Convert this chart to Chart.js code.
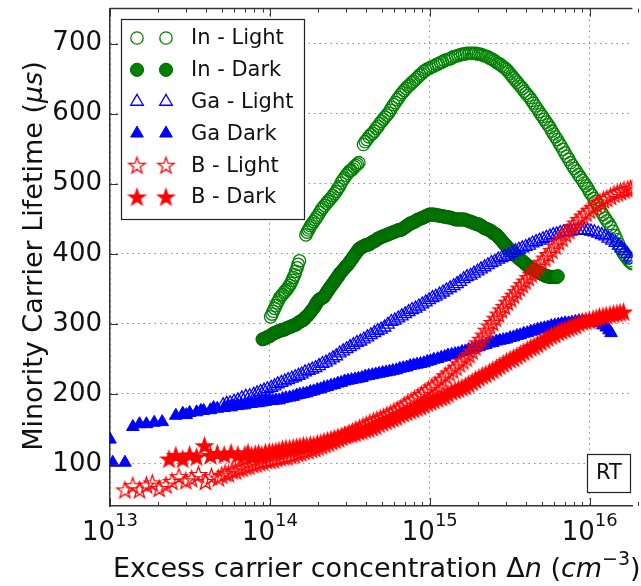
<!DOCTYPE html>
<html>
<head>
<meta charset="utf-8">
<script src="https://cdn.jsdelivr.net/npm/chart.js@4.4.0/dist/chart.umd.min.js"></script>
<style>
  html, body { margin: 0; padding: 0; background: #fff; overflow: hidden; }
  #chart { display: block; }
</style>
</head>
<body>
<canvas id="chart" width="641" height="586"></canvas>
<script>
// axis ticks
const xMajorTicks = [1e13, 1e14, 1e15, 1e16];
const xMinorSteps = [2, 3, 4, 5, 6, 7, 8, 9];
const yTicks = [100, 200, 300, 400, 500, 600, 700];

const seriesLabels = ['In - Light', 'In - Dark', 'Ga - Light', 'Ga Dark', 'B - Light', 'B - Dark'];

// [excess carrier concentration (cm^-3), lifetime (us)]
const inLight = [
  [1.01e14,310],[1.03e14,314],[1.05e14,318],[1.07e14,322],[1.09e14,326],[1.11e14,330],[1.13e14,333],
  [1.15e14,337],[1.18e14,340],[1.2e14,342],[1.23e14,345],[1.25e14,347],[1.28e14,349],[1.3e14,352],
  [1.33e14,355],[1.35e14,358],[1.38e14,362],[1.4e14,366],[1.43e14,370],[1.45e14,375],[1.48e14,380],
  [1.5e14,385],[1.53e14,390],
  [1.68e14,427],[1.71e14,431],[1.74e14,434],[1.77e14,437],[1.80e14,440],[1.84e14,443],[1.88e14,446],
  [1.92e14,449],[1.96e14,452],[2.0e14,455],[2.05e14,459],[2.1e14,463],[2.15e14,466],[2.2e14,469],
  [2.26e14,472],[2.31e14,475],[2.36e14,477],[2.42e14,480],[2.48e14,483],[2.54e14,486],[2.60e14,489],
  [2.66e14,493],[2.72e14,496],[2.78e14,501],[2.85e14,505],[2.92e14,508],[3.00e14,512],[3.07e14,515],
  [3.15e14,518],[3.22e14,519],[3.30e14,521],[3.37e14,524],[3.45e14,526],[3.52e14,528],[3.60e14,530],
  [3.85e14,556],[3.95e14,560],[4.05e14,563],[4.16e14,567],[4.28e14,570],[4.39e14,572],[4.50e14,575],
  [4.62e14,579],[4.75e14,582],[4.87e14,586],[5.00e14,589],[5.12e14,592],[5.25e14,595],[5.38e14,598],
  [5.52e14,601],[5.66e14,605],[5.80e14,609],[5.95e14,613],[6.10e14,616],[6.25e14,620],[6.40e14,623],
  [6.57e14,627],[6.75e14,630],[6.92e14,633],[7.10e14,636],[7.30e14,639],[7.50e14,641],[7.70e14,644],
  [7.90e14,646],[8.15e14,649],[8.40e14,652],[8.65e14,655],[8.90e14,657],[9.15e14,660],[9.40e14,662],
  [9.70e14,664],[1.00e15,665],[1.03e15,667],[1.06e15,668],[1.10e15,670],[1.13e15,671],[1.17e15,673],
  [1.20e15,674],[1.24e15,676],[1.28e15,677],[1.32e15,678],[1.36e15,679],[1.40e15,681],[1.45e15,682],
  [1.50e15,683],[1.55e15,684],[1.60e15,685],[1.65e15,685],[1.70e15,686],[1.76e15,686],[1.82e15,686],
  [1.88e15,686],[1.94e15,686],[2.00e15,685],[2.06e15,685],[2.12e15,684],[2.18e15,683],[2.25e15,682],
  [2.31e15,681],[2.38e15,679],[2.45e15,678],[2.52e15,676],[2.59e15,674],[2.66e15,672],[2.73e15,671],
  [2.80e15,669],[2.87e15,667],[2.95e15,665],[3.02e15,663],[3.10e15,660],[3.18e15,657],[3.26e15,654],
  [3.34e15,651],[3.43e15,648],[3.51e15,645],[3.60e15,642],[3.70e15,639],[3.80e15,636],[3.90e15,632],
  [4.00e15,629],[4.11e15,626],[4.22e15,623],[4.33e15,619],[4.45e15,615],[4.57e15,611],[4.70e15,607],
  [4.82e15,603],[4.95e15,599],[5.07e15,596],[5.20e15,592],[5.35e15,588],[5.50e15,584],[5.65e15,580],
  [5.80e15,575],[5.95e15,571],[6.10e15,567],[6.27e15,563],[6.45e15,558],[6.62e15,554],[6.80e15,549],
  [7.00e15,544],[7.20e15,539],[7.40e15,535],[7.60e15,530],[7.80e15,526],[8.00e15,522],[8.25e15,518],
  [8.50e15,513],[8.75e15,509],[9.00e15,505],[9.25e15,501],[9.50e15,497],[9.75e15,493],[1.00e16,488],
  [1.03e16,484],[1.06e16,479],[1.09e16,475],[1.12e16,470],[1.15e16,465],[1.18e16,460],[1.21e16,456],
  [1.25e16,451],[1.28e16,447],[1.32e16,443],[1.36e16,438],[1.40e16,432],[1.44e16,426],[1.48e16,420],
  [1.52e16,414],[1.56e16,408],[1.60e16,403],[1.64e16,399],[1.68e16,396],[1.72e16,393],[1.76e16,390],
  [1.80e16,388],[1.84e16,386]
];

const inDark = [
  [9.0e13,278],[9.3e13,279],[9.6e13,281],[9.9e13,282],[1.02e14,284],[1.05e14,286],[1.07e14,287],
  [1.1e14,288],[1.12e14,289],[1.15e14,290],[1.18e14,291],[1.2e14,291],[1.23e14,292],[1.26e14,293],
  [1.28e14,294],[1.32e14,295],[1.35e14,296],[1.38e14,297],[1.42e14,298],[1.45e14,299],[1.48e14,300],
  [1.51e14,302],[1.54e14,303],[1.57e14,304],[1.60e14,305],[1.63e14,306],[1.65e14,308],[1.68e14,310],
  [1.71e14,311],[1.74e14,313],[1.77e14,315],[1.8e14,317],[1.84e14,320],[1.87e14,322],[1.91e14,325],
  [1.94e14,328],[1.96e14,330],[1.99e14,332],[2.02e14,334],[2.05e14,335],[2.09e14,336],[2.12e14,337],
  [2.16e14,338],[2.2e14,340],[2.24e14,343],[2.28e14,346],[2.32e14,348],[2.36e14,351],[2.40e14,353],
  [2.45e14,356],[2.49e14,358],[2.54e14,361],[2.58e14,363],[2.63e14,366],[2.68e14,368],[2.72e14,371],
  [2.77e14,373],[2.82e14,375],[2.87e14,377],[2.92e14,379],[2.97e14,381],[3.02e14,383],[3.08e14,385],
  [3.13e14,387],[3.19e14,390],[3.25e14,392],[3.31e14,395],[3.38e14,398],[3.46e14,401],[3.53e14,404],
  [3.61e14,407],[3.67e14,408],[3.74e14,409],[3.8e14,410],[3.87e14,411],[3.95e14,412],[4.04e14,413],
  [4.13e14,413],[4.22e14,414],[4.31e14,416],[4.40e14,417],[4.5e14,418],[4.59e14,419],[4.69e14,421],
  [4.79e14,422],[4.89e14,423],[4.99e14,424],[5.12e14,425],[5.25e14,426],[5.38e14,427],[5.52e14,428],
  [5.66e14,429],[5.80e14,430],[5.95e14,431],[6.10e14,432],[6.25e14,433],[6.40e14,434],[6.56e14,434],
  [6.73e14,435],[6.88e14,437],[7.03e14,438],[7.18e14,440],[7.33e14,441],[7.5e14,443],[7.70e14,444],
  [7.9e14,445],[8.09e14,446],[8.3e14,448],[8.50e14,449],[8.72e14,450],[8.94e14,451],[9.13e14,452],
  [9.33e14,453],[9.53e14,454],[9.73e14,455],[9.95e14,456],[1.02e15,456],[1.045e15,456],[1.07e15,456],
  [1.1e15,455],[1.13e15,455],[1.16e15,454],[1.19e15,454],[1.22e15,453],[1.26e15,453],[1.29e15,452],
  [1.33e15,452],[1.37e15,451],[1.41e15,450],[1.45e15,449],[1.49e15,449],[1.52e15,449],[1.56e15,449],
  [1.6e15,449],[1.64e15,449],[1.69e15,448],[1.74e15,447],[1.79e15,446],[1.84e15,445],[1.88e15,444],
  [1.93e15,443],[1.98e15,442],[2.03e15,442],[2.08e15,440],[2.13e15,439],[2.18e15,437],[2.24e15,436],
  [2.29e15,435],[2.34e15,434],[2.39e15,433],[2.44e15,432],[2.48e15,430],[2.53e15,429],[2.57e15,428],
  [2.62e15,427],[2.66e15,425],[2.71e15,423],[2.76e15,421],[2.81e15,419],[2.86e15,417],[2.91e15,415],
  [2.96e15,413],[3.02e15,411],[3.07e15,409],[3.13e15,407],[3.18e15,405],[3.24e15,404],[3.3e15,402],
  [3.36e15,400],[3.42e15,398],[3.48e15,397],[3.54e15,395],[3.60e15,394],[3.66e15,392],[3.73e15,391],
  [3.8e15,389],[3.87e15,388],[3.94e15,386],[4.01e15,385],[4.08e15,383],[4.16e15,382],[4.23e15,380],
  [4.31e15,379],[4.38e15,378],[4.46e15,377],[4.54e15,376],[4.62e15,375],[4.72e15,374],[4.83e15,373],
  [4.93e15,372],[5.04e15,371],[5.14e15,370],[5.25e15,369],[5.36e15,368],[5.47e15,368],[5.6e15,367],
  [5.71e15,367],[5.84e15,367],[5.96e15,367],[6.06e15,367],[6.15e15,367],[6.24e15,367],[6.31e15,368]
];

const gaLight = [
  [5.1e13,184],[5.37e13,186],[5.64e13,187],[5.97e13,189],[6.31e13,191],[6.68e13,194],[7.07e13,196],
  [7.48e13,197],[7.92e13,199],[8.32e13,201],[8.74e13,203],[9.19e13,205],[9.66e13,207],[1.02e14,209],
  [1.07e14,211],[1.12e14,214],[1.18e14,216],[1.24e14,218],[1.30e14,220],[1.37e14,222],[1.44e14,224],
  [1.51e14,226],[1.58e14,228],[1.66e14,231],[1.75e14,233],[1.84e14,235],[1.93e14,237],[2.03e14,240],
  [2.13e14,243],[2.24e14,245],[2.36e14,248],[2.48e14,251],[2.60e14,254],[2.73e14,258],[2.87e14,261],
  [3.02e14,264],[3.17e14,267],[3.33e14,270],[3.50e14,273],[3.68e14,275],[3.87e14,278],[4.07e14,281],
  [4.28e14,284],[4.50e14,287],[4.72e14,290],[4.96e14,292],[5.21e14,295],[5.47e14,299],[5.75e14,303],
  [6.04e14,305],[6.35e14,308],[6.68e14,311],[7.02e14,314],[7.37e14,317],[7.74e14,320],[8.14e14,322],
  [8.55e14,325],[8.98e14,328],[9.44e14,331],[9.91e14,334],[1.04e15,337],[1.09e15,339],[1.15e15,342],
  [1.21e15,345],[1.27e15,348],[1.34e15,351],[1.41e15,354],[1.48e15,357],[1.55e15,360],[1.63e15,364],
  [1.71e15,367],[1.80e15,369],[1.89e15,372],[1.99e15,375],[2.09e15,378],[2.20e15,381],[2.31e15,384],
  [2.43e15,387],[2.55e15,389],[2.68e15,392],[2.81e15,394],[2.95e15,396],[3.10e15,398],[3.26e15,401],
  [3.43e15,404],[3.61e15,406],[3.79e15,408],[3.98e15,410],[4.18e15,412],[4.39e15,415],[4.62e15,417],
  [4.85e15,419],[5.10e15,421],[5.36e15,423],[5.64e15,425],[5.92e15,427],[6.22e15,428],[6.54e15,430],
  [6.87e15,431],[7.22e15,432],[7.59e15,432],[7.97e15,433],[8.38e15,434],[8.80e15,434],[9.25e15,434],
  [9.72e15,433],[1.02e16,432],[1.07e16,431],[1.13e16,429],[1.19e16,427],[1.25e16,425],[1.31e16,422],
  [1.38e16,419],[1.45e16,416],[1.52e16,412],[1.58e16,408],[1.65e16,404],[1.72e16,400],[1.78e16,395],
  [1.84e16,392]
];

const gaDark = [
  [1.0e13,135],[1.04e13,102],[1.24e13,102],[1.39e13,153],[1.53e13,157],[1.69e13,157],[1.89e13,159],
  [2.12e13,160],[2.58e13,169],[2.85e13,172],[3.0e13,170],[3.15e13,173],[3.48e13,174],[3.7e13,176],
  [3.85e13,176],[4.25e13,177],[4.45e13,180],[4.69e13,179],[5.18e13,180],[5.45e13,182],[5.72e13,181],
  [6.0e13,183],[6.31e13,183],[6.65e13,184],[6.97e13,184],[7.3e13,186],[7.69e13,186],[8.1e13,187],
  [8.5e13,187],[8.9e13,188],[9.38e13,189],[9.9e13,190],
  [1.04e14,190],[1.09e14,191],[1.14e14,191],[1.20e14,193],[1.26e14,194],[1.33e14,195],[1.40e14,196],
  [1.47e14,198],[1.54e14,199],[1.62e14,200],[1.70e14,201],[1.79e14,203],[1.88e14,204],[1.98e14,206],
  [2.08e14,207],[2.18e14,209],[2.29e14,210],[2.41e14,212],[2.53e14,213],[2.66e14,215],[2.79e14,216],
  [2.93e14,218],[3.08e14,219],[3.24e14,220],[3.41e14,221],[3.58e14,222],[3.76e14,223],[3.95e14,225],
  [4.15e14,226],[4.37e14,227],[4.59e14,228],[4.82e14,229],[5.07e14,230],[5.33e14,231],[5.6e14,232],
  [5.88e14,233],[6.18e14,234],[6.49e14,236],[6.82e14,237],[7.17e14,238],[7.54e14,240],[7.92e14,241],
  [8.32e14,242],[8.75e14,243],[9.19e14,244],[9.65e14,246],[1.01e15,247],[1.06e15,249],[1.12e15,250],
  [1.18e15,252],[1.24e15,253],[1.30e15,255],[1.37e15,256],[1.44e15,257],[1.51e15,258],[1.59e15,260],
  [1.67e15,261],[1.75e15,263],[1.84e15,264],[1.93e15,266],[2.03e15,267],[2.13e15,269],[2.24e15,270],
  [2.36e15,272],[2.48e15,273],[2.61e15,275],[2.74e15,276],[2.88e15,277],[3.02e15,278],[3.18e15,280],
  [3.34e15,281],[3.51e15,283],[3.68e15,284],[3.87e15,286],[4.07e15,287],[4.28e15,289],[4.49e15,290],
  [4.72e15,292],[4.96e15,293],[5.21e15,294],[5.47e15,295],[5.75e15,297],[6.05e15,298],[6.36e15,299],
  [6.68e15,300],[7.02e15,301],[7.38e15,301],[7.75e15,302],[8.14e15,303],[8.56e15,304],[9.0e15,304],
  [9.46e15,304],[9.94e15,304],[1.05e16,304],[1.10e16,303],[1.15e16,301],[1.21e16,298],[1.27e16,295],
  [1.32e16,291],[1.36e16,287]
];

const bLight = [
  [1.24e13,63],[1.39e13,69],[1.53e13,63],[1.69e13,70],[1.84e13,73],[2.03e13,65],[2.24e13,70],
  [2.44e13,75],[2.7e13,82],[2.98e13,76],[3.24e13,79],[3.58e13,85],[3.95e13,75],[4.31e13,82],
  [4.76e13,80],[5.0e13,84],[5.25e13,87],[5.5e13,86],[5.8e13,90],[6.1e13,90],[6.4e13,93],[6.7e13,94],
  [7.07e13,96],[7.4e13,97],[7.8e13,99],[8.2e13,100],[8.61e13,102],[9.0e13,103],[9.5e13,105],[1.0e14,105],
  [1.05e14,106],[1.10e14,108],[1.16e14,109],[1.22e14,110],[1.28e14,110],[1.35e14,112],[1.42e14,113],
  [1.49e14,115],[1.56e14,116],[1.64e14,118],[1.73e14,119],[1.82e14,121],[1.91e14,122],[2.0e14,124],
  [2.1e14,126],[2.21e14,128],[2.32e14,130],[2.44e14,132],[2.56e14,134],[2.69e14,136],[2.83e14,139],
  [2.98e14,141],[3.13e14,144],[3.29e14,146],[3.45e14,149],[3.63e14,151],[3.82e14,154],[4.01e14,156],
  [4.22e14,159],[4.44e14,161],[4.66e14,163],[4.9e14,165],[5.14e14,167],[5.4e14,170],[5.68e14,172],
  [5.97e14,175],[6.27e14,177],[6.59e14,180],[6.92e14,184],[7.27e14,187],[7.64e14,190],[8.03e14,193],
  [8.44e14,196],[8.87e14,199],[9.31e14,203],[9.79e14,206],[1.03e15,210],[1.08e15,213],[1.14e15,217],
  [1.19e15,221],[1.25e15,226],[1.32e15,230],[1.39e15,234],[1.46e15,238],[1.53e15,243],[1.61e15,247],
  [1.69e15,251],[1.76e15,256],[1.84e15,261],[1.92e15,267],[2.0e15,273],[2.09e15,278],[2.18e15,284],
  [2.27e15,291],[2.37e15,297],[2.47e15,302],[2.58e15,308],[2.69e15,314],[2.81e15,320],[2.93e15,325],
  [3.06e15,331],[3.2e15,336],[3.34e15,341],[3.48e15,346],[3.63e15,351],[3.79e15,356],[3.95e15,361],
  [4.13e15,366],[4.31e15,371],[4.52e15,376],[4.75e15,382],[5.0e15,388],[5.25e15,394],[5.52e15,399],
  [5.8e15,405],[6.09e15,411],[6.4e15,417],[6.73e15,422],[7.07e15,428],[7.43e15,433],[7.8e15,439],
  [8.2e15,444],[8.61e15,449],[9.05e15,454],[9.5e15,458],[1.0e16,462],[1.05e16,466],[1.1e16,470],
  [1.16e16,474],[1.22e16,477],[1.28e16,479],[1.35e16,482],[1.42e16,485],[1.49e16,487],[1.56e16,489],
  [1.64e16,491],[1.73e16,492],[1.80e16,493],[1.86e16,494]
];

const bDark = [
  [2.34e13,107],[2.58e13,112],[2.85e13,107],[3.15e13,113],[3.48e13,110],[3.9e13,126],[4.25e13,112],
  [4.69e13,115],[5.18e13,113],[5.72e13,116],[6.31e13,113],[6.97e13,113],[7.3e13,116],[7.69e13,112],
  [8.1e13,114],[8.5e13,115],[8.9e13,113],[9.38e13,116],[9.9e13,117],
  [1.04e14,117],[1.09e14,118],[1.14e14,119],[1.2e14,121],[1.26e14,122],[1.33e14,122],[1.4e14,123],
  [1.47e14,124],[1.54e14,125],[1.62e14,126],[1.7e14,126],[1.79e14,127],[1.88e14,127],[1.98e14,129],
  [2.08e14,130],[2.18e14,132],[2.29e14,133],[2.41e14,135],[2.53e14,136],[2.66e14,138],[2.79e14,139],
  [2.93e14,141],[3.08e14,142],[3.24e14,143],[3.41e14,144],[3.58e14,146],[3.76e14,147],[3.95e14,149],
  [4.15e14,150],[4.37e14,152],[4.59e14,154],[4.82e14,157],[5.07e14,159],[5.33e14,161],[5.6e14,163],
  [5.88e14,165],[6.18e14,167],[6.49e14,170],[6.82e14,172],[7.17e14,174],[7.54e14,176],[7.92e14,178],
  [8.32e14,180],[8.75e14,182],[9.19e14,184],[9.65e14,187],[1.01e15,189],[1.06e15,191],[1.12e15,193],
  [1.18e15,195],[1.24e15,197],[1.3e15,200],[1.37e15,203],[1.44e15,205],[1.51e15,207],[1.59e15,209],
  [1.67e15,211],[1.75e15,214],[1.84e15,217],[1.93e15,220],[2.03e15,223],[2.13e15,226],[2.24e15,228],
  [2.36e15,231],[2.48e15,234],[2.61e15,237],[2.74e15,240],[2.88e15,243],[3.02e15,246],[3.18e15,249],
  [3.34e15,251],[3.51e15,254],[3.68e15,257],[3.87e15,260],[4.07e15,263],[4.28e15,266],[4.49e15,268],
  [4.72e15,271],[4.96e15,274],[5.21e15,277],[5.47e15,280],[5.75e15,283],[6.05e15,285],[6.36e15,288],
  [6.68e15,290],[7.02e15,292],[7.38e15,294],[7.75e15,296],[8.14e15,298],[8.56e15,301],[9.0e15,303],
  [9.46e15,304],[9.94e15,305],[1.05e16,307],[1.1e16,308],[1.15e16,310],[1.21e16,311],[1.27e16,312],
  [1.34e16,313],[1.41e16,314],[1.48e16,315],[1.55e16,316],[1.63e16,317]
];

const GREEN = '#008000';
const BLUE = '#0000ff';
const RED = '#ff0000';
const FONT = '"DejaVu Sans", "Bitstream Vera Sans", sans-serif';
const INK = '#111111';
const FRAME = '#333333';

function makeStar(filled) {
  const c = document.createElement('canvas');
  c.width = 21; c.height = 21;
  const g = c.getContext('2d');
  g.beginPath();
  for (let k = 0; k < 10; k++) {
    const r = k % 2 ? 3.4 : 8.6;
    const a = -Math.PI / 2 + k * Math.PI / 5;
    const px = 10.5 + r * Math.cos(a), py = 11.2 + r * Math.sin(a);
    if (k) g.lineTo(px, py); else g.moveTo(px, py);
  }
  g.closePath();
  if (filled) { g.fillStyle = RED; g.fill(); }
  g.strokeStyle = RED;
  g.lineWidth = 1.3;
  g.lineJoin = 'miter';
  g.stroke();
  return c;
}
const starOpen = makeStar(false);
const starFull = makeStar(true);

function toPoints(rows) { return rows.map(r => ({x: r[0], y: r[1]})); }

const seriesStyles = [
  {data: inLight, pointStyle: 'circle', pointRadius: 6.2, backgroundColor: 'rgba(0,0,0,0)', borderColor: GREEN, pointBorderWidth: 1.3},
  {data: inDark, pointStyle: 'circle', pointRadius: 6.6, backgroundColor: GREEN, borderColor: '#006400', pointBorderWidth: 1},
  {data: gaLight, pointStyle: 'triangle', pointRadius: 7.3, backgroundColor: 'rgba(0,0,0,0)', borderColor: BLUE, pointBorderWidth: 1.3},
  {data: gaDark, pointStyle: 'triangle', pointRadius: 7.3, backgroundColor: BLUE, borderColor: BLUE, pointBorderWidth: 1},
  {data: bLight, pointStyle: starOpen, pointRadius: 8, backgroundColor: 'rgba(0,0,0,0)', borderColor: RED, pointBorderWidth: 0},
  {data: bDark, pointStyle: starFull, pointRadius: 8, backgroundColor: RED, borderColor: RED, pointBorderWidth: 0}
];

const xTickValues = [];
xMajorTicks.forEach(d => {
  xTickValues.push(d);
  xMinorSteps.forEach(m => xTickValues.push(d * m));
});

function drawMarker(ctx, s, x, y) {
  if (typeof s.pointStyle !== 'string') {
    ctx.drawImage(s.pointStyle, x - s.pointStyle.width / 2, y - s.pointStyle.height / 2);
    return;
  }
  const r = s.pointRadius;
  ctx.beginPath();
  if (s.pointStyle === 'circle') {
    ctx.arc(x, y, r, 0, Math.PI * 2);
  } else {
    ctx.moveTo(x, y - r);
    ctx.lineTo(x + r * Math.sin(2 * Math.PI / 3), y + r * 0.5);
    ctx.lineTo(x - r * Math.sin(2 * Math.PI / 3), y + r * 0.5);
    ctx.closePath();
  }
  ctx.fillStyle = s.backgroundColor;
  ctx.fill();
  ctx.lineWidth = s.pointBorderWidth;
  ctx.strokeStyle = s.borderColor;
  ctx.stroke();
}

function drawPieces(ctx, pieces, x, y) {
  let cx = x;
  pieces.forEach(p => {
    ctx.font = (p.italic ? 'italic ' : '') + p.size + 'px ' + FONT;
    ctx.fillText(p.text, cx, y - (p.rise || 0));
    cx += ctx.measureText(p.text).width;
  });
  return cx - x;
}

function piecesWidth(ctx, pieces) {
  let w = 0;
  pieces.forEach(p => {
    ctx.font = (p.italic ? 'italic ' : '') + p.size + 'px ' + FONT;
    w += ctx.measureText(p.text).width;
  });
  return w;
}

const decorations = {
  id: 'decorations',
  afterDraw(chart) {
    const ctx = chart.ctx;
    const a = chart.chartArea;
    const xs = chart.scales.x, ys = chart.scales.y;
    ctx.save();

    // top spine
    ctx.strokeStyle = FRAME;
    ctx.lineWidth = 1.5;
    ctx.beginPath();
    ctx.moveTo(a.left, a.top);
    ctx.lineTo(a.right, a.top);
    ctx.stroke();

    // inward ticks
    ctx.lineWidth = 1;
    ctx.beginPath();
    xTickValues.forEach(v => {
      const px = Math.round(xs.getPixelForValue(v)) + 0.5;
      const len = xMajorTicks.includes(v) ? 8 : 4;
      ctx.moveTo(px, a.bottom); ctx.lineTo(px, a.bottom - len);
      ctx.moveTo(px, a.top); ctx.lineTo(px, a.top + len);
    });
    yTicks.forEach(v => {
      const py = Math.round(ys.getPixelForValue(v)) + 0.5;
      ctx.moveTo(a.left, py); ctx.lineTo(a.left + 8, py);
    });
    ctx.stroke();

    // x tick labels 10^n
    ctx.fillStyle = INK;
    ctx.textBaseline = 'alphabetic';
    ctx.textAlign = 'left';
    xMajorTicks.forEach(v => {
      const px = xs.getPixelForValue(v);
      const pieces = [{text: '10', size: 26}, {text: String(Math.round(Math.log10(v))), size: 18, rise: 14}];
      const w = piecesWidth(ctx, pieces);
      drawPieces(ctx, pieces, px - w / 2, 540);
    });

    // x title
    const xTitle = [
      {text: 'Excess carrier concentration \u0394', size: 27},
      {text: 'n', size: 27, italic: true},
      {text: ' (', size: 27},
      {text: 'cm', size: 27, italic: true},
      {text: '\u22123', size: 19, rise: 12},
      {text: ')', size: 27}
    ];
    drawPieces(ctx, xTitle, 113, 577);

    // y title
    const yTitle = [
      {text: 'Minority Carrier Lifetime (', size: 27},
      {text: '\u03bcs', size: 27, italic: true},
      {text: ')', size: 27}
    ];
    ctx.save();
    ctx.translate(42, 256);
    ctx.rotate(-Math.PI / 2);
    const yw = piecesWidth(ctx, yTitle);
    drawPieces(ctx, yTitle, -yw / 2, 0);
    ctx.restore();

    // legend
    ctx.fillStyle = '#ffffff';
    ctx.fillRect(121.5, 19.5, 183, 200);
    ctx.strokeStyle = '#222222';
    ctx.lineWidth = 1.2;
    ctx.strokeRect(121.5, 19.5, 183, 200);
    seriesLabels.forEach((label, i) => {
      const y = 38 + i * 31.8;
      drawMarker(ctx, seriesStyles[i], 137, y);
      drawMarker(ctx, seriesStyles[i], 166, y);
      ctx.fillStyle = INK;
      ctx.font = '21px ' + FONT;
      ctx.textBaseline = 'middle';
      ctx.fillText(label, 191, y + 1);
    });

    // RT box
    ctx.fillStyle = '#ffffff';
    ctx.fillRect(587.5, 454.5, 43, 38);
    ctx.strokeStyle = '#222222';
    ctx.lineWidth = 1.2;
    ctx.strokeRect(587.5, 454.5, 43, 38);
    ctx.fillStyle = INK;
    ctx.font = '21px ' + FONT;
    ctx.textAlign = 'center';
    ctx.textBaseline = 'middle';
    ctx.fillText('RT', 609, 474);

    ctx.restore();
  }
};

new Chart(document.getElementById('chart'), {
  type: 'scatter',
  data: {
    datasets: seriesStyles.map((s, i) => ({
      label: seriesLabels[i],
      data: toPoints(s.data),
      pointStyle: s.pointStyle,
      pointRadius: s.pointRadius,
      pointBackgroundColor: s.backgroundColor,
      pointBorderColor: s.borderColor,
      pointBorderWidth: s.pointBorderWidth,
      showLine: false,
      clip: 0,
      order: 6 - i
    }))
  },
  options: {
    responsive: false,
    animation: false,
    events: [],
    layout: { padding: { top: 8, left: 0, right: 0, bottom: 0 } },
    plugins: { legend: { display: false }, tooltip: { enabled: false } },
    scales: {
      x: {
        type: 'logarithmic',
        min: 1e13,
        max: 1.85e16,
        afterBuildTicks: s => { s.ticks = xTickValues.map(v => ({value: v})); },
        afterFit: s => { s.height = 80; s.paddingLeft = 0; s.paddingRight = 0; },
        ticks: { display: false },
        grid: {
          color: c => (c.tick && xMajorTicks.includes(c.tick.value)) ? '#8c8c8c' : 'rgba(0,0,0,0)',
          lineWidth: 1,
          drawTicks: false
        },
        border: { color: FRAME, width: 1.5, dash: [1.5, 4] }
      },
      y: {
        min: 40,
        max: 750,
        afterBuildTicks: s => { s.ticks = yTicks.map(v => ({value: v})); },
        afterFit: s => { s.width = 110; s.paddingTop = 0; s.paddingBottom = 0; },
        ticks: {
          font: { family: FONT, size: 26 },
          color: INK,
          padding: 8,
          callback: v => String(v)
        },
        grid: { color: '#8c8c8c', lineWidth: 1, drawTicks: false },
        border: { color: FRAME, width: 1.5, dash: [1.5, 4] }
      }
    }
  },
  plugins: [decorations]
});
</script>
</body>
</html>
